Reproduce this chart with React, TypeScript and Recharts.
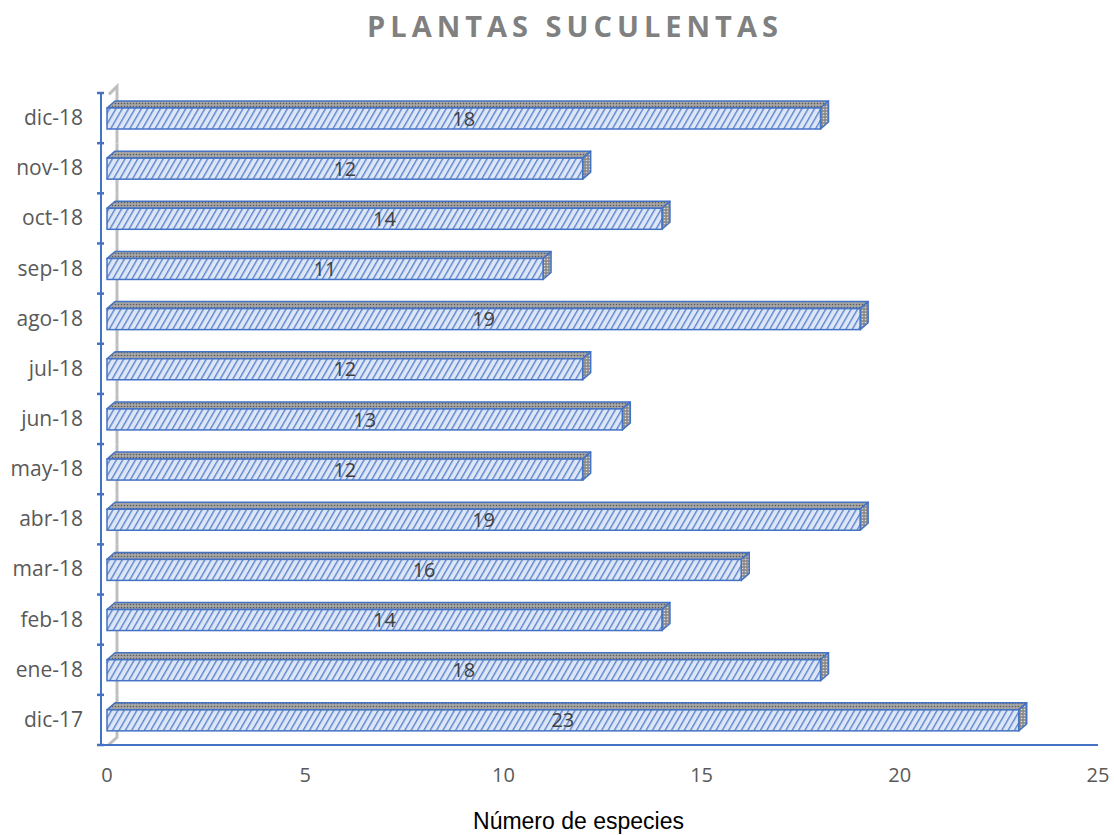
import React from 'react';
import { BarChart, Bar, XAxis, YAxis, LabelList } from 'recharts';

const months = ['dic-17', 'ene-18', 'feb-18', 'mar-18', 'abr-18', 'may-18', 'jun-18', 'jul-18', 'ago-18', 'sep-18', 'oct-18', 'nov-18', 'dic-18'];
const species = [23, 18, 14, 16, 19, 12, 13, 12, 19, 11, 14, 12, 18];
const xTicks = [0, 5, 10, 15, 20, 25];

const data = months.map((m, i) => ({ month: m, value: species[i] }));

const BLUE = '#4472C4';
const DX = 8;
const DY = 7;
const HALF_BAND = 25.1;
const FONT = "'Open Sans', 'Noto Sans', sans-serif";

const Bar3D = (props: any) => {
  const { x, y, width, height } = props;
  if (width == null || height == null) return null;
  const w = Math.max(0, width);
  const top = `M ${x} ${y} L ${x + DX} ${y - DY} L ${x + w + DX} ${y - DY} L ${x + w} ${y} Z`;
  const side = `M ${x + w} ${y} L ${x + w + DX} ${y - DY} L ${x + w + DX} ${y + height - DY} L ${x + w} ${y + height} Z`;
  return (
    <g>
      <path d={top} fill="url(#topPat)" stroke={BLUE} strokeWidth={1.5} strokeLinejoin="round" />
      <path d={side} fill="url(#sidePat)" stroke={BLUE} strokeWidth={1.5} strokeLinejoin="round" />
      <rect x={x} y={y} width={w} height={height} fill="url(#hatch)" stroke={BLUE} strokeWidth={1.5} />
    </g>
  );
};

// back wall edge, drawn per band behind the bars
const WallSegment = (props: any) => {
  const { x, y, height, index } = props;
  if (x == null || y == null) return null;
  const cy = y + height / 2;
  const wx = x + 16;
  const yt = cy - HALF_BAND;
  const yb = cy + HALF_BAND;
  const last = months.length - 1;
  let d = '';
  if (index === last) {
    d = `M ${x + 8} ${yt + 1} L ${wx} ${yt - 7} L ${wx} ${yb}`;
  } else if (index === 0) {
    d = `M ${wx} ${yt} L ${wx} ${yb - 8} L ${x + 7} ${yb}`;
  } else {
    d = `M ${wx} ${yt} L ${wx} ${yb}`;
  }
  return <path d={d} fill="none" stroke="#BFBFBF" strokeWidth={3} />;
};

const YTick = (props: any) => {
  const { x, y, payload, index } = props;
  const off = payload && payload.offset ? payload.offset : HALF_BAND;
  return (
    <g>
      <line x1={x - 4} x2={x + 3} y1={y - off} y2={y - off} stroke={BLUE} strokeWidth={2.5} />
      {index === 0 ? (
        <line x1={x - 4} x2={x + 3} y1={y + off} y2={y + off} stroke={BLUE} strokeWidth={2.5} />
      ) : null}
      <text x={x - 18} y={y + 7} textAnchor="end" fill="#595959" fontSize={21} fontFamily={FONT}>
        {payload.value}
      </text>
    </g>
  );
};

export default function App() {
  return (
    <div style={{ position: 'absolute', left: 0, top: 0, width: 1114, height: 835, background: '#fff' }}>
      <div
        style={{
          position: 'absolute',
          left: 0,
          top: 6,
          width: 1150,
          textAlign: 'center',
          fontFamily: FONT,
          fontWeight: 700,
          fontSize: 29,
          letterSpacing: 5,
          color: '#808080',
        }}
      >
        PLANTAS SUCULENTAS
      </div>
      <BarChart
        width={1114}
        height={835}
        data={data}
        layout="vertical"
        margin={{ top: 93, right: 16, bottom: 10, left: 0 }}
        barCategoryGap={0}
      >
        <defs>
          <pattern id="hatch" patternUnits="userSpaceOnUse" width={5.5} height={5.5} patternTransform="rotate(30)">
            <rect x={0} y={0} width={5.5} height={5.5} fill="#DDE6F6" />
            <rect x={0} y={0} width={1.4} height={5.5} fill="#5B84CC" />
          </pattern>
          <pattern id="topPat" patternUnits="userSpaceOnUse" width={3} height={3}>
            <rect x={0} y={0} width={3} height={3} fill="#A6A6A6" />
            <circle cx={1.5} cy={1.5} r={0.8} fill="#595959" />
          </pattern>
          <pattern id="sidePat" patternUnits="userSpaceOnUse" width={3} height={3}>
            <rect x={0} y={0} width={3} height={3} fill="#8C8C8C" />
            <circle cx={1.5} cy={1.5} r={0.8} fill="#D9D9D9" />
          </pattern>
        </defs>
        <XAxis
          type="number"
          domain={[0, 25]}
          ticks={xTicks}
          padding={{ left: 6, right: 0 }}
          height={80}
          axisLine={{ stroke: BLUE, strokeWidth: 2 }}
          tickLine={false}
          tickSize={0}
          tickMargin={23}
          tick={{ fill: '#595959', fontSize: 20, fontFamily: FONT }}
          label={{
            value: 'Número de especies',
            position: 'insideBottom',
            offset: -4,
            dx: -21,
            fill: '#000000',
            fontSize: 23,
            fontFamily: "'Liberation Sans', Arial, sans-serif",
          }}
        />
        <YAxis
          type="category"
          dataKey="month"
          reversed
          width={101}
          axisLine={{ stroke: BLUE, strokeWidth: 2 }}
          tickLine={false}
          tickSize={0}
          tickMargin={0}
          interval={0}
          tick={<YTick />}
        />
        <Bar
          dataKey="value"
          barSize={21}
          shape={<Bar3D />}
          background={<WallSegment />}
          isAnimationActive={false}
        >
          <LabelList dataKey="value" position="center" fill="#404040" fontSize={20} fontFamily={FONT} />
        </Bar>
      </BarChart>
    </div>
  );
}
